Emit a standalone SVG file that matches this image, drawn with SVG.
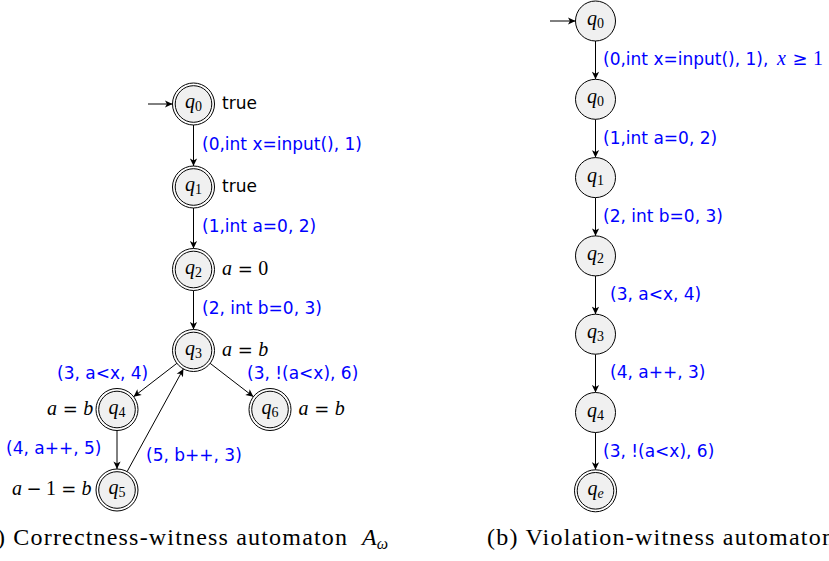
<svg xmlns="http://www.w3.org/2000/svg" width="829" height="561" viewBox="0 0 829 561">
<style>
.bg{fill:#ffffff}
.st{fill:#f0f0f0;stroke:#000;stroke-width:1}
.so{fill:#ffffff;stroke:#000;stroke-width:1}
.ql{font-family:"Liberation Serif",serif;font-style:italic;font-size:20px;fill:#000}
.qs{font-style:normal;font-size:14px}
.qi{font-style:italic;font-size:14px}
.lb{font-family:"DejaVu Sans",sans-serif;font-size:17px;fill:#0000ff}
.tx{font-family:"DejaVu Sans",sans-serif;font-size:17px;fill:#000}
.m{font-family:"Liberation Serif",serif;font-style:italic;font-size:20px;fill:#000}
.n{font-family:"Liberation Serif",serif;font-size:20px;fill:#000}
.op{font-family:"DejaVu Sans",sans-serif;font-size:18px;fill:#000}
.bl{fill:#0000ff}
.cap{font-family:"Liberation Serif",serif;font-size:24px;fill:#000}
.e{stroke:#000;stroke-width:1;fill:none;marker-end:url(#ah)}
</style>
<defs>
<marker id="ah" viewBox="-8 -4 9 8" refX="0" refY="0" markerWidth="9" markerHeight="8" orient="auto" markerUnits="userSpaceOnUse">
<path d="M0,0 L-7.5,-3.6 L-5.6,0 L-7.5,3.6 Z" fill="#000"/>
</marker>
</defs>
<rect class="bg" x="0" y="0" width="829" height="561"/>

<g id="connectors">
<line class="e" x1="148" y1="104" x2="172.5" y2="104"/>
<line class="e" x1="193.5" y1="125" x2="193.5" y2="166"/>
<line class="e" x1="193.5" y1="208" x2="193.5" y2="248.5"/>
<line class="e" x1="193.5" y1="290.5" x2="193.5" y2="329.5"/>
<line class="e" x1="176.9" y1="363.3" x2="133.6" y2="396.7"/>
<line class="e" x1="210.1" y1="363.3" x2="253.4" y2="396.7"/>
<line class="e" x1="117" y1="430.5" x2="117" y2="469"/>
<line class="e" x1="127.1" y1="471.6" x2="183.4" y2="368.9"/>

<line class="e" x1="550" y1="21" x2="575.5" y2="21"/>
<line class="e" x1="595.5" y1="41" x2="595.5" y2="79.3"/>
<line class="e" x1="595.5" y1="119.3" x2="595.5" y2="157.6"/>
<line class="e" x1="595.5" y1="197.6" x2="595.5" y2="235.9"/>
<line class="e" x1="595.5" y1="275.9" x2="595.5" y2="314.2"/>
<line class="e" x1="595.5" y1="354.2" x2="595.5" y2="392.5"/>
<line class="e" x1="595.5" y1="432.5" x2="595.5" y2="469.8"/>

<text class="lb" x="202" y="150">(0,int x=input(), 1)</text>
<text class="lb" x="202" y="232">(1,int a=0, 2)</text>
<text class="lb" x="202" y="314">(2, int b=0, 3)</text>
<text class="lb" x="57" y="379">(3, a&lt;x, 4)</text>
<text class="lb" x="247" y="379">(3, !(a&lt;x), 6)</text>
<text class="lb" x="6" y="454">(4, a++, 5)</text>
<text class="lb" x="146" y="461">(5, b++, 3)</text>

<text class="lb" x="603" y="65">(0,int x=input(), 1),</text>
<text class="m bl" x="777" y="65">x</text>
<text class="op bl" x="800" y="65" text-anchor="middle">≥</text>
<text class="n bl" x="813" y="65">1</text>
<text class="lb" x="603" y="143.5">(1,int a=0, 2)</text>
<text class="lb" x="603" y="221.8">(2, int b=0, 3)</text>
<text class="lb" x="610" y="300">(3, a&lt;x, 4)</text>
<text class="lb" x="610" y="378.4">(4, a++, 3)</text>
<text class="lb" x="603" y="456.7">(3, !(a&lt;x), 6)</text>
</g>

<g id="L_q0">
<circle class="so" cx="193.5" cy="104" r="21"/><circle class="st" cx="193.5" cy="104" r="18.3"/>
<text class="ql" x="193.5" y="108" text-anchor="middle">q<tspan class="qs" dy="3">0</tspan></text>
<text class="tx" x="222" y="109">true</text>
</g>
<g id="L_q1">
<circle class="so" cx="193.5" cy="187" r="21"/><circle class="st" cx="193.5" cy="187" r="18.3"/>
<text class="ql" x="193.5" y="191" text-anchor="middle">q<tspan class="qs" dy="3">1</tspan></text>
<text class="tx" x="222" y="192">true</text>
</g>
<g id="L_q2">
<circle class="so" cx="193.5" cy="269.5" r="21"/><circle class="st" cx="193.5" cy="269.5" r="18.3"/>
<text class="ql" x="193.5" y="273.5" text-anchor="middle">q<tspan class="qs" dy="3">2</tspan></text>
<text class="m" x="222" y="274.5">a</text><text class="op" x="245.2" y="274.5" text-anchor="middle">=</text><text class="n" x="258.2" y="274.5">0</text>
</g>
<g id="L_q3">
<circle class="so" cx="193.5" cy="350.5" r="21"/><circle class="st" cx="193.5" cy="350.5" r="18.3"/>
<text class="ql" x="193.5" y="354.5" text-anchor="middle">q<tspan class="qs" dy="3">3</tspan></text>
<text class="m" x="222" y="355.5">a</text><text class="op" x="245.2" y="355.5" text-anchor="middle">=</text><text class="m" x="258.2" y="355.5">b</text>
</g>
<g id="L_q4">
<circle class="so" cx="117" cy="409.5" r="21"/><circle class="st" cx="117" cy="409.5" r="18.3"/>
<text class="ql" x="117" y="413.5" text-anchor="middle">q<tspan class="qs" dy="3">4</tspan></text>
<text class="m" x="47" y="414.5">a</text><text class="op" x="70.2" y="414.5" text-anchor="middle">=</text><text class="m" x="83.2" y="414.5">b</text>
</g>
<g id="L_q5">
<circle class="so" cx="117" cy="490" r="21"/><circle class="st" cx="117" cy="490" r="18.3"/>
<text class="ql" x="117" y="494" text-anchor="middle">q<tspan class="qs" dy="3">5</tspan></text>
<text class="m" x="12" y="495">a</text><text class="op" x="34.1" y="495" text-anchor="middle">−</text><text class="n" x="46" y="495">1</text><text class="op" x="68.7" y="495" text-anchor="middle">=</text><text class="m" x="81.6" y="495">b</text>
</g>
<g id="L_q6">
<circle class="so" cx="270" cy="409.5" r="21"/><circle class="st" cx="270" cy="409.5" r="18.3"/>
<text class="ql" x="270" y="413.5" text-anchor="middle">q<tspan class="qs" dy="3">6</tspan></text>
<text class="m" x="298.5" y="414.5">a</text><text class="op" x="321.7" y="414.5" text-anchor="middle">=</text><text class="m" x="334.7" y="414.5">b</text>
</g>

<g id="R_q0a">
<circle class="st" cx="595.5" cy="21" r="20"/>
<text class="ql" x="595.5" y="25" text-anchor="middle">q<tspan class="qs" dy="3">0</tspan></text>
</g>
<g id="R_q0b">
<circle class="st" cx="595.5" cy="99.3" r="20"/>
<text class="ql" x="595.5" y="103.3" text-anchor="middle">q<tspan class="qs" dy="3">0</tspan></text>
</g>
<g id="R_q1">
<circle class="st" cx="595.5" cy="177.6" r="20"/>
<text class="ql" x="595.5" y="181.6" text-anchor="middle">q<tspan class="qs" dy="3">1</tspan></text>
</g>
<g id="R_q2">
<circle class="st" cx="595.5" cy="255.9" r="20"/>
<text class="ql" x="595.5" y="259.9" text-anchor="middle">q<tspan class="qs" dy="3">2</tspan></text>
</g>
<g id="R_q3">
<circle class="st" cx="595.5" cy="334.2" r="20"/>
<text class="ql" x="595.5" y="338.2" text-anchor="middle">q<tspan class="qs" dy="3">3</tspan></text>
</g>
<g id="R_q4">
<circle class="st" cx="595.5" cy="412.5" r="20"/>
<text class="ql" x="595.5" y="416.5" text-anchor="middle">q<tspan class="qs" dy="3">4</tspan></text>
</g>
<g id="R_qe">
<circle class="so" cx="595.5" cy="490.8" r="21"/><circle class="st" cx="595.5" cy="490.8" r="18.3"/>
<text class="ql" x="595.5" y="494.8" text-anchor="middle">q<tspan class="qi" dy="3">e</tspan></text>
</g>

<g id="captions">
<text class="cap" x="-24" y="545" textLength="371" lengthAdjust="spacing">(a) Correctness-witness automaton</text>
<text class="cap" x="362" y="545" font-style="italic">A<tspan font-size="16" dy="4">ω</tspan></text>
<text class="cap" x="487" y="545" textLength="347" lengthAdjust="spacing">(b) Violation-witness automaton</text>
</g>
</svg>
